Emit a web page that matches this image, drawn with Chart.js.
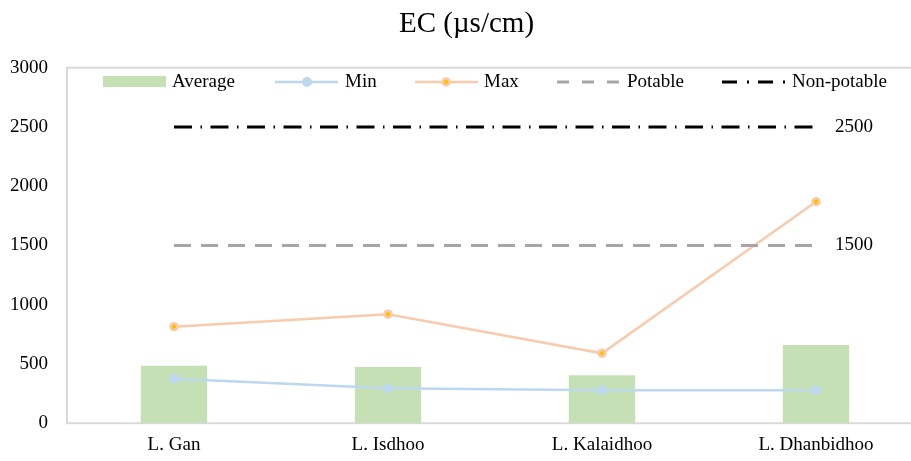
<!DOCTYPE html>
<html>
<head>
<meta charset="utf-8">
<script src="https://cdn.jsdelivr.net/npm/chart.js@4/dist/chart.umd.min.js"></script>
<style>
  html, body { margin: 0; padding: 0; background: #fff; overflow: hidden; }
  #wrap { width: 911px; height: 461px; overflow: hidden; }
  canvas { display: block; }
</style>
</head>
<body>
<div id="wrap"><canvas id="ec-chart" width="932" height="473" style="width:932px;height:473px"></canvas></div>
<script>
  // data
  const sites = ['L. Gan', 'L. Isdhoo', 'L. Kalaidhoo', 'L. Dhanbidhoo'];
  const avgEC = [485, 475, 405, 660];
  const minEC = [375, 295, 278, 278];
  const maxEC = [815, 920, 590, 1870];
  const potable = [1500, 1500, 1500, 1500];
  const nonPotable = [2500, 2500, 2500, 2500];
  const yTicks = [0, 500, 1000, 1500, 2000, 2500, 3000];

  const serif = '"Liberation Serif", "Times New Roman", serif';

  // grey frame around the plot area (right side falls off the picture)
  const frame = {
    id: 'frame',
    beforeDatasetsDraw(chart) {
      const a = chart.chartArea, c = chart.ctx;
      c.save();
      c.strokeStyle = '#d9d9d9';
      c.lineWidth = 2;
      c.beginPath();
      c.moveTo(a.right + 5, a.top);
      c.lineTo(a.left, a.top);
      c.lineTo(a.left, a.bottom);
      c.lineTo(a.right + 5, a.bottom);
      c.stroke();
      c.restore();
    }
  };

  // value labels at the end of the limit lines
  const limitLabels = {
    id: 'limitLabels',
    afterDatasetsDraw(chart) {
      const c = chart.ctx;
      const x = chart.scales.x.getPixelForValue(sites.length - 1) + 19;
      c.save();
      c.font = '19px ' + serif;
      c.fillStyle = '#000';
      c.textAlign = 'left';
      c.textBaseline = 'middle';
      c.fillText(String(nonPotable[0]), x, chart.scales.y.getPixelForValue(nonPotable[0]));
      c.fillText(String(potable[0]), x, chart.scales.y.getPixelForValue(potable[0]));
      c.restore();
    }
  };

  // legend drawn inside the plot, like the original
  const legendInside = {
    id: 'legendInside',
    afterDraw(chart) {
      const c = chart.ctx;
      const y = 82;
      c.save();
      c.font = '19px ' + serif;
      c.fillStyle = '#000';
      c.textBaseline = 'middle';

      // Average
      c.fillStyle = '#c5e0b4';
      c.fillRect(103, 76, 63, 11);
      c.fillStyle = '#000';
      c.fillText('Average', 172, y);

      // Min
      c.strokeStyle = '#bdd7ee';
      c.lineWidth = 2.5;
      c.beginPath(); c.moveTo(275, y); c.lineTo(338, y); c.stroke();
      c.fillStyle = '#bdd7ee';
      c.beginPath(); c.arc(307, y, 5, 0, Math.PI * 2); c.fill();
      c.fillStyle = '#000';
      c.fillText('Min', 345, y);

      // Max
      c.strokeStyle = '#f8cbad';
      c.beginPath(); c.moveTo(415, y); c.lineTo(478, y); c.stroke();
      c.fillStyle = '#ffc000';
      c.lineWidth = 2.5;
      c.beginPath(); c.arc(446, y, 3.5, 0, Math.PI * 2); c.fill(); c.stroke();
      c.fillStyle = '#000';
      c.fillText('Max', 484, y);

      // Potable
      c.strokeStyle = '#a6a6a6';
      c.lineWidth = 3;
      c.setLineDash([12, 13]);
      c.beginPath(); c.moveTo(557, y); c.lineTo(620, y); c.stroke();
      c.fillText('Potable', 627, y);

      // Non-potable
      c.strokeStyle = '#000';
      c.setLineDash([15, 10, 2, 9]);
      c.beginPath(); c.moveTo(722, y); c.lineTo(785, y); c.stroke();
      c.setLineDash([]);
      c.fillText('Non-potable', 792, y);
      c.restore();
    }
  };

  new Chart(document.getElementById('ec-chart'), {
    type: 'bar',
    data: {
      labels: sites,
      datasets: [
        {
          type: 'line',
          label: 'Non-potable',
          data: nonPotable,
          borderColor: '#000',
          borderWidth: 3,
          borderDash: [18, 8.5, 1.5, 8.5],
          borderCapStyle: 'butt',
          pointRadius: 0,
          fill: false,
          order: 1
        },
        {
          type: 'line',
          label: 'Potable',
          data: potable,
          borderColor: '#a6a6a6',
          borderWidth: 3,
          borderDash: [17, 10],
          pointRadius: 0,
          fill: false,
          order: 2
        },
        {
          type: 'line',
          label: 'Max',
          data: maxEC,
          borderColor: '#f8cbad',
          borderWidth: 2.5,
          pointRadius: 3.5,
          pointBorderWidth: 2.5,
          pointBackgroundColor: '#ffc000',
          pointBorderColor: '#f8cbad',
          tension: 0,
          fill: false,
          order: 3
        },
        {
          type: 'line',
          label: 'Min',
          data: minEC,
          borderColor: '#bdd7ee',
          borderWidth: 2.5,
          pointRadius: 5,
          pointBorderWidth: 0,
          pointBackgroundColor: '#bdd7ee',
          tension: 0,
          fill: false,
          order: 4
        },
        {
          label: 'Average',
          data: avgEC,
          backgroundColor: '#c5e0b4',
          barPercentage: 0.62,
          categoryPercentage: 0.5,
          order: 5
        }
      ]
    },
    options: {
      responsive: false,
      animation: false,
      layout: { padding: { left: 10, right: 9, top: 0, bottom: 7 } },
      scales: {
        x: {
          grid: { display: false, drawTicks: false },
          border: { display: false },
          ticks: { color: '#000', font: { family: serif, size: 19 }, padding: 10, maxRotation: 0 }
        },
        y: {
          min: 0,
          max: 3000,
          afterBuildTicks(axis) { axis.ticks = yTicks.map(v => ({ value: v })); },
          afterFit(axis) { axis.width = 57; },
          grid: { display: false, drawTicks: false },
          border: { display: false },
          ticks: {
            color: '#000',
            font: { family: serif, size: 19 },
            padding: 19,
            callback: v => String(v)
          }
        }
      },
      plugins: {
        legend: { display: false },
        tooltip: { enabled: false },
        title: {
          display: true,
          text: 'EC (µs/cm)',
          color: '#000',
          font: { family: serif, size: 29, weight: 'normal' },
          padding: { top: 7, bottom: 26 }
        }
      }
    },
    plugins: [frame, limitLabels, legendInside]
  });
</script>
</body>
</html>
